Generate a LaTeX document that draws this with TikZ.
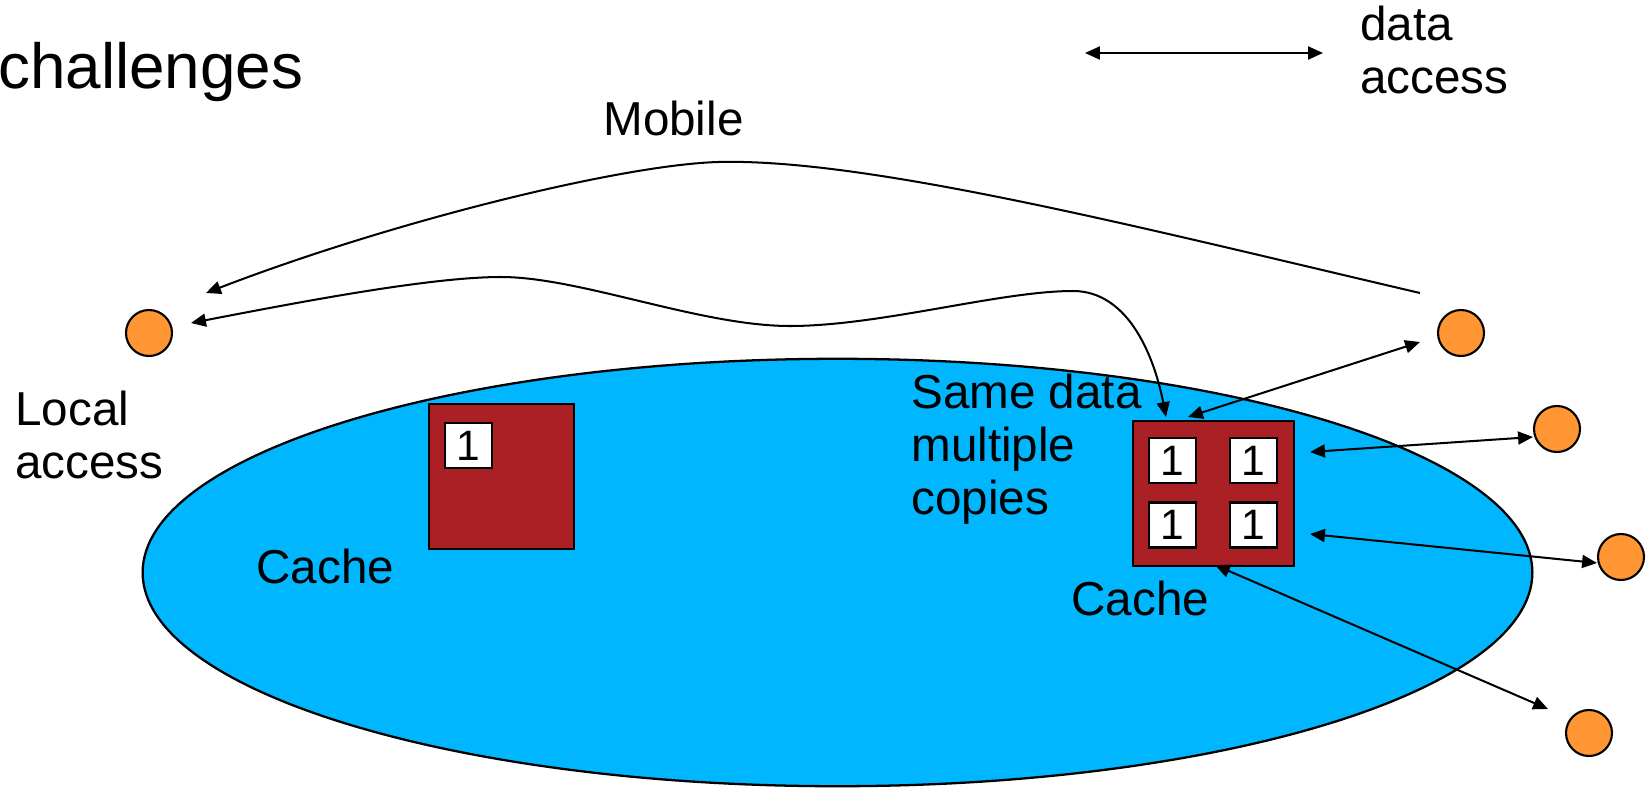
\documentclass[tikz,border=0pt]{standalone}
\usepackage{fontspec}
\setmainfont{Liberation Sans}
\usetikzlibrary{arrows.meta,shapes.geometric}
\definecolor{lake}{RGB}{0,183,255}
\definecolor{dot}{RGB}{255,149,51}
\definecolor{brick}{RGB}{170,32,36}
\begin{document}
\begin{tikzpicture}[x=0.02cm,y=-0.02cm,
  txt/.style={anchor=base west, inner sep=0pt, font=\fontsize{27.1}{30.2}\selectfont},
  peer/.style={circle, draw=black, fill=dot, line width=1.2pt, minimum size=0.92cm, inner sep=0pt},
  cachebox/.style={rectangle, draw=black, fill=brick, line width=1.3pt, inner sep=0pt},
  cell/.style={rectangle, draw=black, fill=white, line width=1.3pt, minimum width=0.94cm, minimum height=0.9cm, inner sep=0pt, font=\fontsize{24.2}{26}\selectfont},
  tipA/.tip={Triangle[length=8.5pt,width=7.4pt]},
  link/.style={line width=1.15pt, tipA-tipA},
  onelink/.style={line width=1.15pt, -tipA}
]
\useasboundingbox (0,0) rectangle (1650,788);

% network
\node[ellipse, draw=black, fill=lake, line width=1.3pt, minimum width=27.8cm, minimum height=8.55cm, inner sep=0pt] (net) at (837.5,572.5) {};

% caches
\node[cachebox, minimum width=2.9cm, minimum height=2.9cm] (lcache) at (501.5,476.5) {};
\node[cell] (lc1) at (468.5,445.5) {1};
\node[cachebox, minimum width=3.22cm, minimum height=2.9cm] (rcache) at (1213.5,493.5) {};
\node[cell] (rc1) at (1172.5,460.5) {1};
\node[cell] (rc2) at (1253.5,460.5) {1};
\node[cell] (rc3) at (1172.5,525) {1};
\node[cell] (rc4) at (1253.5,525) {1};

% peers
\node[peer] (p0) at (149,333) {};
\node[peer] (p1) at (1461,333) {};
\node[peer] (p2) at (1557,429) {};
\node[peer] (p3) at (1621,557) {};
\node[peer] (p4) at (1589,733) {};

% texts
\node[txt, font=\fontsize{36.3}{40}\selectfont] (title) at (-2,88) {challenges};
\node[txt] (mob) at (603,135) {Mobile};
\node[txt] (leg) at (1360,40) {\begin{tabular}[t]{@{}l@{}}data\\access\end{tabular}};
\node[txt] (loc) at (15,425) {\begin{tabular}[t]{@{}l@{}}Local\\access\end{tabular}};
\node[txt] (lcl) at (256,583) {Cache};
\node[txt] (same) at (911,408) {\begin{tabular}[t]{@{}l@{}}Same data\\multiple\\copies\end{tabular}};
\node[txt] (rcl) at (1071,615) {Cache};

% legend arrow
\coordinate (legA) at (1085,53);
\coordinate (legB) at (1323,53);
\draw[link] (legA) -- (legB);

% mobile curve
\coordinate (mobS) at (1420,293);
\coordinate (mobM) at (718,162);
\coordinate (mobE) at (206,293);
\draw[onelink] (mobS) .. controls (1150,230) and (870,158) .. (mobM)
  .. controls (620,165) and (390,222) .. (mobE);

% wavy access curve
\coordinate (wA) at (191,323);
\coordinate (wB) at (501,277);
\coordinate (wC) at (790,326);
\coordinate (wD) at (1073,291);
\coordinate (wE) at (1166,417);
\draw[link] (wA) .. controls (300,302) and (430,277) .. (wB)
  .. controls (580,277) and (700,326) .. (wC)
  .. controls (880,326) and (1000,291) .. (wD)
  .. controls (1130,291) and (1155,360) .. (wE);

% remote accesses
\coordinate (a1s) at (1188,417);
\coordinate (a1e) at (1420,342);
\coordinate (a2s) at (1310,452);
\coordinate (a2e) at (1533,437);
\coordinate (a3s) at (1310,534);
\coordinate (a3e) at (1597,563);
\coordinate (a4s) at (1215,565);
\coordinate (a4e) at (1548,709);
\draw[link] (a1s) -- (a1e);
\draw[link] (a2s) -- (a2e);
\draw[link] (a3s) -- (a3e);
\draw[link] (a4s) -- (a4e);
\end{tikzpicture}
\end{document}
